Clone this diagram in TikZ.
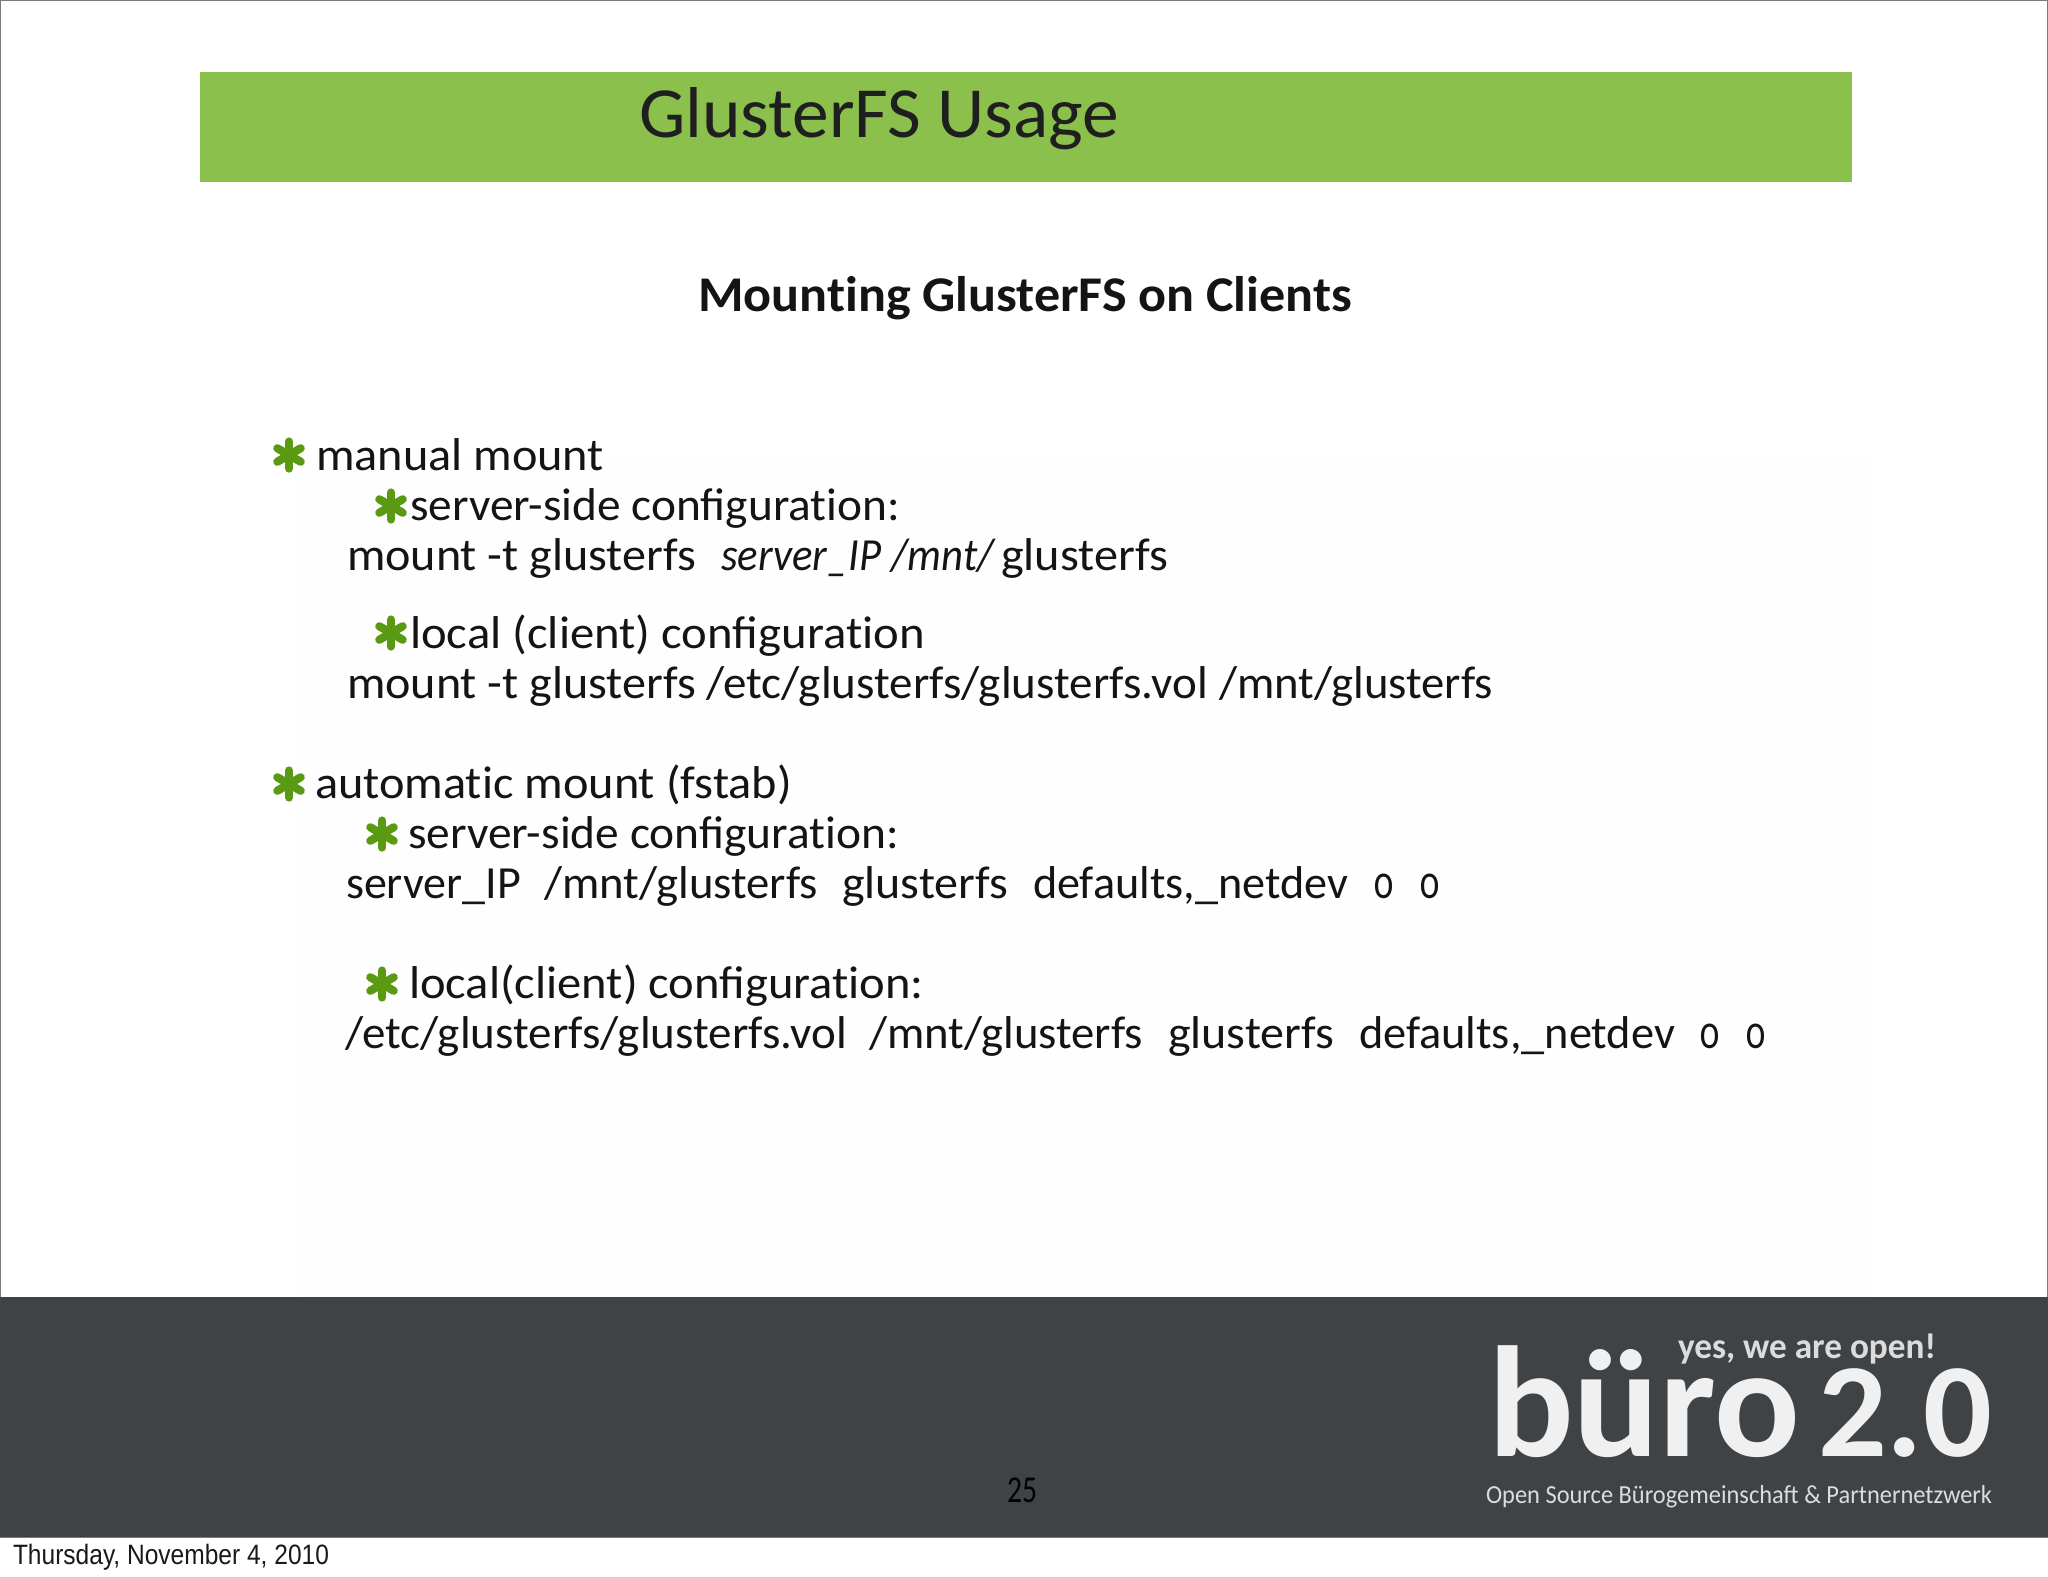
\documentclass[tikz,border=0pt]{standalone}
\usepackage{fontspec}
\usepackage{graphicx}
\setmainfont{Carlito}
\newfontfamily\datefont{Liberation Sans}
\newdimen\pxu \pxu=0.5pt
\newcommand{\fitw}[2]{\resizebox{#1\pxu}{\height}{#2}}
\newcommand{\gap}[1]{\hspace*{#1\pxu}}
\newcommand{\tii}{t\kern0pt i}
\definecolor{bargreen}{HTML}{8BC04C}
\definecolor{stargreen}{HTML}{5A9A12}
\definecolor{footgray}{HTML}{3F4345}
\definecolor{logowhite}{HTML}{F0F0F0}
\definecolor{logogray}{HTML}{DCDCDC}
\definecolor{framegray}{HTML}{7A7A7A}
\definecolor{paper}{HTML}{FEFEFE}
\tikzset{
  lbl/.style={anchor=base west,inner sep=0pt,outer sep=0pt},
  bodytext/.style={lbl,font=\fontsize{23pt}{26pt}\selectfont,text=black!92},
  logotext/.style={lbl,text=logowhite},
  starmark/.pic={\foreach \a in {30,90,...,330}{\draw[stargreen,line width=4.1pt,line cap=round] (0,0) -- (\a:13.5);}}
}
\newcommand{\oldnum}{\addfontfeatures{Numbers=OldStyle}}
\begin{document}
\begin{tikzpicture}[x=0.5pt,y=-0.5pt]
\useasboundingbox (0,0) rectangle (2048,1576);
\fill[white] (0,0) rectangle (2048,1576);
\fill[paper] (300,460) rectangle (1870,1297);
\draw[framegray,line width=0.7pt] (0.5,0.5) rectangle (2047.5,1537);
\fill[bargreen] (200,72) rectangle (1852,182);
\fill[footgray] (0,1297) rectangle (2048,1537);

\node[lbl,font=\fontsize{36pt}{38pt}\selectfont,text=black!88] (title) at (639,137) {\fitw{480}{GlusterFS Usage}};
\node[lbl,font=\fontsize{25pt}{28pt}\selectfont\bfseries,text=black!92] (sub) at (698,311) {\fitw{654}{Moun\tii ng GlusterFS on Clients}};

\pic at (289,455) {starmark};
\pic at (391,506) {starmark};
\pic at (391,633) {starmark};
\pic at (289,784) {starmark};
\pic at (382,834) {starmark};
\pic at (382,984) {starmark};

\node[bodytext] (l1) at (316,470) {\fitw{288}{manual mount}};
\node[bodytext] (l2) at (410,520) {\fitw{490}{server-side configura\tii on:}};
\node[bodytext] (l3) at (347,570) {\fitw{349}{mount -t glusterfs}\gap{25}\fitw{275}{\textit{server\_IP /mnt/}}\gap{5}\fitw{167}{glusterfs}};
\node[bodytext] (l4) at (410,648) {\fitw{515}{local (client) configura\tii on}};
\node[bodytext] (l5) at (347,698) {\fitw{349}{mount -t glusterfs}\gap{10}\fitw{502}{/etc/glusterfs/glusterfs.vol}\gap{11}\fitw{274}{/mnt/glusterfs}};
\node[bodytext] (l6) at (315,798) {\fitw{477}{automa\tii c mount (fstab)}};
\node[bodytext] (l7) at (408,848) {\fitw{491}{server-side configura\tii on:}};
\node[bodytext] (l8) at (346,898) {\fitw{175}{server\_IP}\gap{23}\fitw{274}{/mnt/glusterfs}\gap{24}\fitw{166}{glusterfs}\gap{25}\fitw{315}{defaults,\_netdev}\gap{26}\fitw{19}{\oldnum 0}\gap{27}\fitw{19}{\oldnum 0}};
\node[bodytext] (l9) at (409,998) {\fitw{515}{local(client) configura\tii on:}};
\node[bodytext] (l10) at (345,1048) {\fitw{502}{/etc/glusterfs/glusterfs.vol}\gap{22}\fitw{274}{/mnt/glusterfs}\gap{25}\fitw{166}{glusterfs}\gap{25}\fitw{316}{defaults,\_netdev}\gap{25}\fitw{19}{\oldnum 0}\gap{27}\fitw{19}{\oldnum 0}};

\node[logotext,font=\fontsize{79pt}{80pt}\selectfont\bfseries] (logoa) at (1488,1456) {\fitw{312}{büro}};
\node[logotext,font=\fontsize{67pt}{70pt}\selectfont\bfseries] (logob) at (1818,1456) {\fitw{174}{2.0}};
\node[logotext,text=logogray,font=\fontsize{18pt}{20pt}\selectfont\bfseries] (logoc) at (1678,1358) {\fitw{258}{yes, we are open!}};
\node[logotext,text=logogray,font=\fontsize{13pt}{15pt}\selectfont] (logod) at (1486,1503) {\fitw{506}{Open Source Bürogemeinschaft \& Partnernetzwerk}};

\node[lbl,font=\fontsize{19pt}{21pt}\selectfont,text=black] (page) at (1007,1502) {\fitw{30}{25}};
\node[lbl,font=\fontsize{14pt}{16pt}\selectfont\datefont,text=black!90] (date) at (13,1564) {\fitw{316}{Thursday, November 4, 2010}};
\end{tikzpicture}
\end{document}
